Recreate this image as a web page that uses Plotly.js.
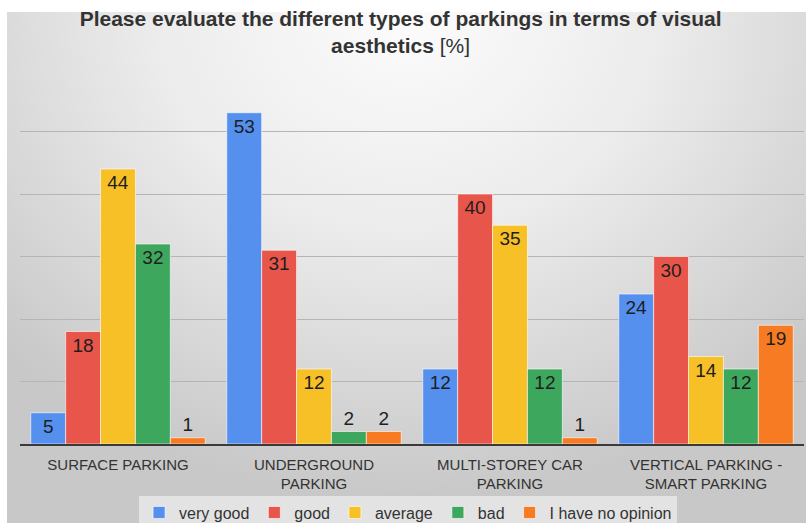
<!DOCTYPE html>
<html>
<head>
<meta charset="utf-8">
<script src="https://cdn.plot.ly/plotly-3.0.1.min.js"></script>
<style>
  body { margin: 0; background: #ffffff; }
  #bg {
    position: absolute; left: 7px; top: 12px; width: 799px; height: 511px;
    background: radial-gradient(ellipse 70% 95% at 50% 0%, #fcfcfc 0%, #ececec 45%, #d2d2d2 85%, #c8c8c8 100%);
  }
  #chart { position: absolute; left: 0; top: 0; width: 806px; height: 523px; }
</style>
</head>
<body>
<div id="bg"></div>
<div id="chart"></div>
<script>
var categories = ['SURFACE PARKING', 'UNDERGROUND<br>PARKING', 'MULTI-STOREY CAR<br>PARKING', 'VERTICAL PARKING -<br>SMART PARKING']
var seriesNames = ['very good', 'good', 'average', 'bad', 'I have no opinion']
var veryGood = [5, 53, 12, 24]
var good = [18, 31, 40, 30]
var average = [44, 12, 35, 14]
var bad = [32, 2, 12, 12]
var noOpinion = [1, 2, 1, 19]
var colors = ['#5590ee', '#e8554a', '#f8c027', '#3ea75e', '#f77b22']

var values = [veryGood, good, average, bad, noOpinion]
var labelFont = {family: 'Liberation Sans, Arial, sans-serif', size: 19, color: '#1e1e1e'}
var data = []
for (var i = 0; i < values.length; i++) {
  data.push({
    type: 'bar',
    name: seriesNames[i],
    x: categories,
    y: values[i],
    text: values[i].map(String),
    textposition: 'auto',
    insidetextanchor: 'end',
    constraintext: 'none',
    textangle: 0,
    textfont: labelFont,
    insidetextfont: labelFont,
    outsidetextfont: labelFont,
    cliponaxis: false,
    marker: {color: colors[i], line: {color: 'rgba(255,255,255,0.6)', width: 1}},
    hoverinfo: 'none'
  })
}

var layout = {
  width: 806,
  height: 523,
  margin: {l: 20, r: 2, t: 69, b: 79},
  paper_bgcolor: 'rgba(0,0,0,0)',
  plot_bgcolor: 'rgba(0,0,0,0)',
  font: {family: 'Liberation Sans, Arial, sans-serif', color: '#333333'},
  title: {
    text: '<b>Please evaluate the different types of parkings in terms of visual</b><br><b>aesthetics</b> [%]',
    font: {size: 21, color: '#333333'},
    x: 0.497, xref: 'container', xanchor: 'center',
    y: 0.95, yref: 'container', yanchor: 'top'
  },
  barmode: 'group',
  bargap: 0.11,
  bargroupgap: 0,
  xaxis: {
    showline: true, linecolor: '#3a3a3a', linewidth: 1.5,
    ticks: '', showgrid: false,
    ticklabelstandoff: 6,
    tickfont: {size: 15, color: '#333333'}
  },
  yaxis: {
    range: [0, 60], dtick: 10, showticklabels: false,
    showgrid: true, gridcolor: '#b5b5b5', gridwidth: 1,
    zeroline: false, fixedrange: true
  },
  showlegend: true,
  legend: {
    orientation: 'h',
    x: 0.495, xanchor: 'center',
    y: 0.02, yref: 'container', yanchor: 'middle',
    bgcolor: 'rgba(232,232,232,0.85)',
    font: {size: 16, color: '#333333'},
    itemwidth: 30,
    traceorder: 'normal'
  }
}

Plotly.newPlot('chart', data, layout, {displayModeBar: false, staticPlot: true})
</script>
</body>
</html>
